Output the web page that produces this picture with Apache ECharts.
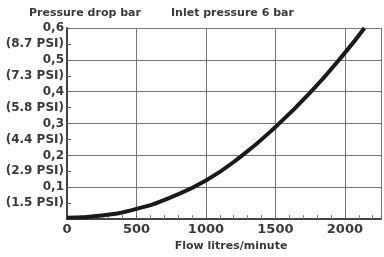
<!DOCTYPE html>
<html>
<head>
<meta charset="utf-8">
<script src="https://cdn.jsdelivr.net/npm/echarts@6/dist/echarts.min.js"></script>
<style>
html, body { margin: 0; padding: 0; background: #fff; }
#main { width: 384px; height: 257px; }
</style>
</head>
<body>
<div id="main"></div>
<script>
// flow (litres/minute) vs pressure drop (bar)
var flow = [0, 250, 500, 750, 1000, 1250, 1500, 1750, 2000, 2141];
var pressure = [0.004, 0.011, 0.032, 0.069, 0.121, 0.196, 0.289, 0.397, 0.522, 0.6];

// y labels every 0.05 bar, bar values and psi in between
var yLabels = ['', '(1.5 PSI)', '0,1', '(2.9 PSI)', '0,2', '(4.4 PSI)', '0,3',
    '(5.8 PSI)', '0,4', '(7.3 PSI)', '0,5', '(8.7 PSI)', '0,6'];

var font = 'DejaVu Sans';
var textColor = '#3a3a3a';

var chartDom = document.getElementById('main');
var myChart = echarts.init(chartDom, null, { renderer: 'canvas' });

var option = {
    animation: false,
    title: [
        {
            text: 'Pressure drop bar',
            left: 24, top: 3,
            textStyle: { fontFamily: font, fontSize: 11, fontWeight: 'bold', color: textColor }
        },
        {
            text: 'Inlet pressure 6 bar',
            left: 166, top: 3,
            textStyle: { fontFamily: font, fontSize: 11, fontWeight: 'bold', color: textColor }
        }
    ],
    grid: {
        left: 67,
        right: -4,
        top: 28,
        bottom: 35
    },
    xAxis: {
        type: 'value',
        min: 0,
        max: 2260,
        interval: 500,
        name: 'Flow litres/minute',
        nameLocation: 'middle',
        nameGap: 17,
        nameTextStyle: { fontFamily: font, fontSize: 11, fontWeight: 'bold', color: textColor, padding: [0, 0, 0, 14] },
        axisLine: { lineStyle: { color: '#444', width: 2 } },
        axisTick: { show: true, inside: true, length: 4, lineStyle: { color: '#666' } },
        minorTick: { show: true, splitNumber: 5, length: 4, lineStyle: { color: '#777' } },
        axisLabel: {
            fontFamily: font, fontSize: 13, fontWeight: 'bold', color: textColor, margin: 4,
            formatter: function (v) { return v % 500 === 0 ? String(v) : ''; }
        },
        splitLine: { show: true, lineStyle: { color: '#777', width: 1 } }
    },
    yAxis: [
        {
            type: 'value',
            min: 0,
            max: 0.6,
            interval: 0.05,
            axisLine: { show: true, lineStyle: { color: '#444', width: 2 } },
            axisTick: { show: true, inside: true, length: 4, lineStyle: { color: '#666' } },
            axisLabel: {
                fontFamily: font, fontSize: 12, fontWeight: 'bold', color: textColor, margin: 3,
                formatter: function (v) {
                    var i = Math.round(v / 0.05);
                    return yLabels[i] || '';
                }
            },
            splitLine: { show: false }
        },
        {
            // only gives the horizontal grid every 0.1 bar
            type: 'value',
            min: 0,
            max: 0.6,
            interval: 0.1,
            axisLine: { show: false },
            axisTick: { show: false },
            axisLabel: { show: false },
            splitLine: { show: true, lineStyle: { color: '#777', width: 1 } }
        }
    ],
    series: [
        {
            type: 'line',
            yAxisIndex: 0,
            smooth: true,
            symbol: 'none',
            lineStyle: { color: '#1a1a1a', width: 4 },
            data: flow.map(function (f, i) { return [f, pressure[i]]; }),
            z: 5
        }
    ]
};

option && myChart.setOption(option);
</script>
</body>
</html>
